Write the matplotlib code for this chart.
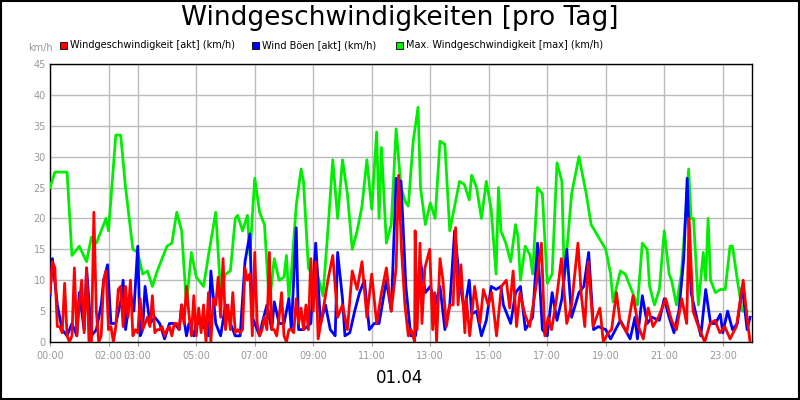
import matplotlib
matplotlib.use("Agg")
import matplotlib.pyplot as plt
import numpy as np

green_t = [0,10,35,45,60,75,85,95,105,115,120,135,145,155,170,180,190,200,210,220,240,250,260,270,280,290,300,315,325,340,350,360,370,380,385,395,405,410,420,430,440,450,460,470,480,485,490,495,505,515,520,530,540,550,560,570,580,590,600,610,620,630,640,650,660,670,675,680,690,700,710,720,730,735,745,755,760,770,780,790,800,810,820,840,850,860,865,875,885,895,905,915,920,925,935,945,955,960,965,975,985,990,1000,1010,1020,1030,1040,1050,1055,1070,1085,1100,1110,1140,1150,1155,1170,1180,1195,1205,1215,1225,1230,1240,1250,1260,1270,1275,1285,1295,1300,1310,1315,1320,1330,1340,1345,1350,1355,1365,1375,1385,1395,1400,1410,1420,1430,1436]
green_v = [25,27.5,27.5,14,15.5,13,17,16,18,20,18,33.5,33.5,25,15,14.5,11,11.5,9,11.5,15.5,16,21,18,6,14.5,10.5,9,14,21,8,11,11.5,20,20.5,18,20.5,14,26.5,21,19,6,13.5,10,10.5,14,7,11,22,28,26,12,10.5,10.5,7.5,18,29.5,20,29.5,24,15,18,22,29.5,21.5,34,20,31.5,16,19,34.5,25,22.5,22,32.5,38,25,19,22.5,20,32.5,32,18,26,25.5,23,27,25,20,26,21.5,11,25,18,16,13,19,17,10,15.5,14,11,25,24,9.5,11,29,26,10,24,30,24,19,15,11,6.5,11.5,11,8,6,16,15,9,6,8.5,18,11,10,6,11,16,28,20,20,6,14.5,10,20,10,8,8.5,8.5,15.5,15.5,10,5,5]

red_t = [0,5,10,15,20,25,30,35,40,45,50,55,60,65,70,75,80,85,90,95,100,105,110,115,120,125,130,135,140,145,150,155,160,165,170,175,180,185,190,195,200,205,210,215,220,225,230,235,240,245,250,255,260,265,270,275,280,285,290,295,300,305,310,315,320,325,330,335,340,345,350,355,360,365,370,375,380,385,390,395,400,405,410,415,420,425,430,435,440,445,450,455,460,465,470,475,480,485,490,495,500,505,510,515,520,525,530,535,540,545,550,560,570,580,590,600,610,620,630,640,650,660,670,680,690,700,710,715,721,728,735,741,748,749,753,759,763,769,779,785,789,793,800,806,813,820,827,832,837,843,851,854,861,871,882,889,899,906,916,926,936,943,950,957,964,974,984,997,1008,1015,1022,1029,1039,1049,1060,1070,1083,1090,1097,1104,1114,1128,1135,1145,1152,1162,1169,1183,1196,1207,1217,1227,1237,1248,1263,1275,1285,1296,1306,1311,1319,1330,1343,1354,1364,1374,1384,1395,1408,1422,1429,1436]
red_v = [8,13,12,2.5,2.5,1.5,9.5,1,0,1,12,1,6,10,1.5,12,0,0,21,5,0,1,10,11.5,2,2.5,0,2.5,8.5,9,2.5,9,4,10,1,2,1.5,7,2,3,4,2.5,7.5,1.5,2,2,2.5,1,2,2.5,1,3,3,2,6,3,9,4.5,1,7.5,1,5.5,1.5,6,0,8,0,7,6,10.5,4,13.5,2,6,2,8,1.5,2,1.5,2,12,10,11,1,14.5,3,1,2,4,2,14.5,2,2,1,4,8,1,0,2,2,1.5,7,3,5.5,2,6,2,13.5,5,13,0.5,5,10,14,4,6,2,11.5,8.5,13,4,11,3,8,12,5,12,27,15,6,1,2,0,18,2,16,3,12,15,2,8,0,13.5,10,2.5,6,6,18.5,6,12.5,1.5,7,1,9,3,8.5,6,8,1,9,10,5.5,11.5,2.5,8,4.5,2.5,9,16,1,4,2,7,13.5,3,6,16,7.5,2.5,13,2.5,5.5,0,1.5,2,8,3.5,1.5,7.5,2.5,0.5,5.5,2.5,4,7,3.5,2,7,3,20,5,2.5,0,3,3.5,1.5,2.5,0.5,2.5,10,4.5,0]

blue_t = [0,5,15,25,35,45,55,60,70,75,85,95,105,110,118,125,135,145,150,155,165,172,180,185,190,195,205,215,225,235,245,255,265,270,280,285,295,300,310,315,325,330,340,350,360,370,380,390,400,410,415,430,435,445,455,460,470,480,490,495,505,510,520,535,545,555,565,575,585,590,600,605,615,625,635,645,655,665,675,690,700,710,720,730,740,750,760,770,780,790,800,810,820,830,840,850,860,865,875,885,895,905,915,925,930,945,955,965,975,990,1000,1010,1020,1030,1040,1050,1060,1070,1085,1095,1105,1115,1125,1140,1150,1160,1170,1180,1190,1200,1205,1215,1225,1235,1250,1260,1270,1280,1290,1300,1307,1315,1325,1335,1345,1355,1365,1375,1380,1390,1400,1410,1420,1430,1436]
blue_v = [7.5,13.5,6,2,1,3,1,8,2,12,1,2,6,10,12.5,3,3,6.5,10,2,8,5,15.5,1,2,9,3,4,3,0.5,3,3,2,6,1,3,1,3,3,2.5,1,11.5,3,1,6,3,1,1,13,17.5,4,1,3,6,2,6.5,3,3,7,2,18.5,2,2,3,16,3,6,2,1,14.5,7,1,1.5,5,8,10,2,3,3,10,5,26.5,26,9,1,1,13,8,9,6,9,2,6,18,10,5,10,4.5,5,1,3.5,9,8.5,9,6,3,8,9,2,4,16,2,1,8,3.5,7,15,4,8,9,14.5,2,2.5,2,0.5,2,3.5,2,0.5,4,0.5,7.5,3,4,3.5,7,4,1.5,5,13.5,26.5,8,4.5,1,8.5,3,3,4.5,1.5,5,2,3,9,2,4]

yticks = list(range(0, 50, 5))
xtick_hours = [0, 2, 3, 5, 7, 9, 11, 13, 15, 17, 19, 21, 23]
xtick_labels = ["00:00", "02:00", "03:00", "05:00", "07:00", "09:00", "11:00", "13:00", "15:00", "17:00", "19:00", "21:00", "23:00"]
labels = ["Windgeschwindigkeit [akt] (km/h)", "Wind Böen [akt] (km/h)", "Max. Windgeschwindigkeit [max] (km/h)"]
colors = ["#ff0000", "#0000ff", "#00ee00"]


def series(t, v):
    n = min(len(t), len(v))
    return np.array(t[:n]) / 60.0, np.array(v[:n])


fig = plt.figure(figsize=(8, 4), dpi=100)
fig.patch.set_facecolor("white")
ax = fig.add_axes([0.0625, 0.145, 0.8775, 0.695])
ax.plot(*series(green_t, green_v), color=colors[2], lw=2, zorder=3)
ax.plot(*series(blue_t, blue_v), color=colors[1], lw=2, zorder=4)
ax.plot(*series(red_t, red_v), color=colors[0], lw=2, zorder=5)
ax.set_xlim(0, 24)
ax.set_ylim(0, 45)
ax.set_yticks(yticks)
ax.set_xticks(xtick_hours)
ax.set_xticklabels(xtick_labels)
ax.grid(True, color="#bbbbbb", lw=1, zorder=0)
ax.set_axisbelow(True)
ax.tick_params(labelsize=7, colors="#999999", length=3)
ax.tick_params(axis="y", length=0, pad=3)
for s in ax.spines.values():
    s.set_color("black")
    s.set_linewidth(1)

fig.text(0.5, 0.955, "Windgeschwindigkeiten [pro Tag]", ha="center", va="center", fontsize=19)
fig.text(0.035, 0.88, "km/h", fontsize=7, color="#999999", ha="left", va="center")
fig.text(0.5, 0.055, "01.04", ha="center", va="center", fontsize=12)
leg_x = [0.075, 0.315, 0.495]
for lx, lab, c in zip(leg_x, labels, colors):
    fig.patches.append(plt.Rectangle((lx, 0.878), 0.009, 0.018, transform=fig.transFigure,
                                     facecolor=c, edgecolor="black", lw=0.6))
    fig.text(lx + 0.013, 0.887, lab, fontsize=7, va="center", ha="left")
fig.patches.append(plt.Rectangle((0.001, 0.002), 0.998, 0.996, transform=fig.transFigure,
                                 fill=False, edgecolor="black", lw=1.5))
fig.savefig("out.png", dpi=100)
